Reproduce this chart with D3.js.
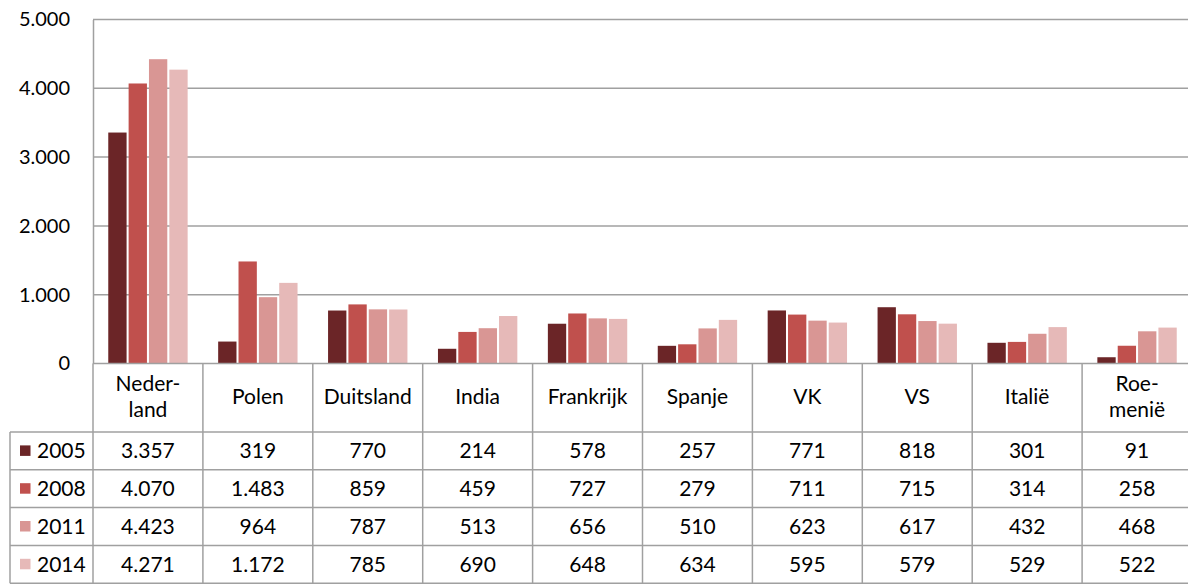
<!DOCTYPE html>
<html>
<head>
<meta charset="utf-8">
<script src="https://cdn.jsdelivr.net/npm/d3@7"></script>
<style>
  body { margin: 0; background: #fff; }
  svg { font-family: Lato, "Open Sans", sans-serif; }
</style>
</head>
<body>
<svg width="1188" height="588"></svg>
<script>
// data
const countries = [["Neder-", "land"], ["Polen"], ["Duitsland"], ["India"], ["Frankrijk"], ["Spanje"], ["VK"], ["VS"], ["Italië"], ["Roe-", "menië"]];
const years = ["2005", "2008", "2011", "2014"];
const v2005 = [3357, 319, 770, 214, 578, 257, 771, 818, 301, 91];
const v2008 = [4070, 1483, 859, 459, 727, 279, 711, 715, 314, 258];
const v2011 = [4423, 964, 787, 513, 656, 510, 623, 617, 432, 468];
const v2014 = [4271, 1172, 785, 690, 648, 634, 595, 579, 529, 522];
const yTicks = [0, 1000, 2000, 3000, 4000, 5000];

const series = [v2005, v2008, v2011, v2014];
const colors = ["#6b2527", "#c0504d", "#d99694", "#e6b9b8"];

const svg = d3.select("svg");
const plotL = 93, plotR = 1192, plotT = 19.5, plotB = 363.5;
const rowTop = 432, rowH = 37.8;
const fs = 21;
const fmt = d3.formatLocale({ decimal: ",", thousands: ".", grouping: [3] }).format(",d");
const grey = "#a0a0a0";

const x = d3.scaleBand()
  .domain(d3.range(countries.length))
  .range([plotL, plotR])
  .paddingInner(0)
  .paddingOuter(0);

const xs = d3.scaleBand()
  .domain(years)
  .range([0, x.bandwidth()])
  .paddingInner(0.1)
  .paddingOuter(0.75);

const y = d3.scaleLinear().domain([0, 5000]).range([plotB, plotT]);

// gridlines
svg.append("g")
  .selectAll("line")
  .data(yTicks.slice(1))
  .enter().append("line")
    .attr("x1", plotL).attr("x2", 1188)
    .attr("y1", d => y(d)).attr("y2", d => y(d))
    .attr("stroke", grey).attr("stroke-width", 1.5);

// bars
const group = svg.append("g")
  .selectAll("g")
  .data(countries.map((c, i) => i))
  .enter().append("g")
    .attr("transform", i => `translate(${x(i)},0)`);

group.selectAll("rect")
  .data(i => years.map((yr, j) => ({ yr, j, v: series[j][i] })))
  .enter().append("rect")
    .attr("x", d => xs(d.yr))
    .attr("width", xs.bandwidth())
    .attr("y", d => y(d.v))
    .attr("height", d => y(0) - y(d.v))
    .attr("fill", d => colors[d.j]);

// y axis
const yAxis = svg.append("g")
  .attr("transform", `translate(${plotL},0)`)
  .call(d3.axisLeft(y).tickValues(yTicks).tickSize(0).tickPadding(23).tickFormat(fmt));
yAxis.select(".domain").attr("stroke", grey).attr("stroke-width", 1.5);
yAxis.selectAll("text")
  .attr("font-size", 20).attr("fill", "#000")
  .attr("font-family", "Lato, sans-serif");

// data table lines
const tbl = svg.append("g").attr("stroke", grey).attr("stroke-width", 1.5);
tbl.append("line").attr("x1", plotL).attr("x2", 1188).attr("y1", plotB).attr("y2", plotB);
d3.range(years.length + 1).forEach(r => {
  tbl.append("line")
    .attr("x1", 10).attr("x2", 1188)
    .attr("y1", rowTop + r * rowH).attr("y2", rowTop + r * rowH);
});
tbl.append("line").attr("x1", 10).attr("x2", 10)
  .attr("y1", rowTop).attr("y2", rowTop + years.length * rowH);
d3.range(countries.length).forEach(i => {
  tbl.append("line").attr("x1", x(i)).attr("x2", x(i))
    .attr("y1", plotB).attr("y2", rowTop + years.length * rowH);
});

// header labels
const head = svg.append("g").selectAll("text")
  .data(countries.map((c, i) => ({ c, i })))
  .enter().append("text")
    .attr("text-anchor", "middle")
    .attr("font-size", fs)
    .attr("x", d => x(d.i) + x.bandwidth() / 2)
    .attr("y", d => d.c.length > 1 ? 391 : 404);
head.selectAll("tspan")
  .data(d => d.c.map(t => ({ t, x: x(d.i) + x.bandwidth() / 2 })))
  .enter().append("tspan")
    .attr("x", d => d.x)
    .attr("dy", (d, k) => k ? 26 : 0)
    .text(d => d.t);

// legend rows
const rows = svg.append("g").selectAll("g")
  .data(years.map((yr, j) => ({ yr, j })))
  .enter().append("g")
    .attr("transform", d => `translate(0,${rowTop + d.j * rowH})`);

rows.append("rect")
  .attr("x", 20).attr("y", rowH / 2 - 5.5)
  .attr("width", 10.5).attr("height", 10.5)
  .attr("fill", d => colors[d.j]);

rows.append("text")
  .attr("x", 37).attr("y", rowH / 2 + 7.5)
  .attr("font-size", fs)
  .text(d => d.yr);

rows.selectAll("text.val")
  .data(d => series[d.j].map((v, i) => ({ v, i })))
  .enter().append("text")
    .attr("class", "val")
    .attr("text-anchor", "middle")
    .attr("x", d => x(d.i) + x.bandwidth() / 2)
    .attr("y", rowH / 2 + 7.5)
    .attr("font-size", fs)
    .text(d => fmt(d.v));
</script>
</body>
</html>
